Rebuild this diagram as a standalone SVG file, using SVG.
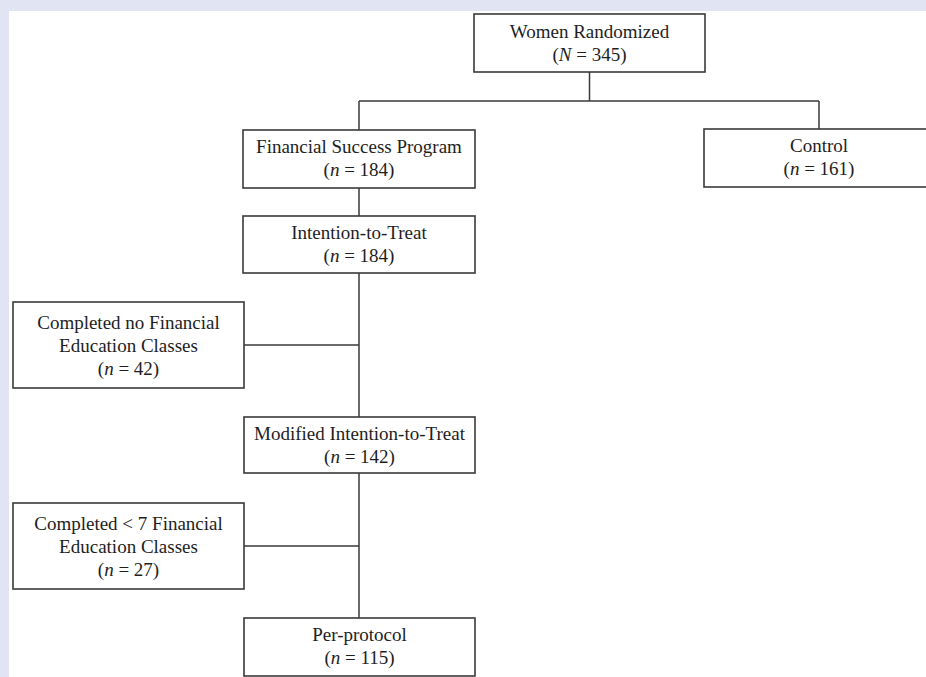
<svg xmlns="http://www.w3.org/2000/svg" width="926" height="677" viewBox="0 0 926 677">
<style>
.box{fill:#fff;stroke:#3a3a3a;stroke-width:1.6}
.t{font-family:"Liberation Serif","Times New Roman",serif;font-size:19px;fill:#1e1e1e;text-anchor:middle}
.i{font-style:italic}
.c{fill:none;stroke:#3a3a3a;stroke-width:1.5}
</style>
<rect x="0" y="0" width="926" height="677" fill="#fff"/>
<rect x="0" y="0" width="926" height="11" fill="#e0e4f3"/>
<rect x="0" y="0" width="9" height="677" fill="#e0e4f3"/>
<g id="connectors">
<path class="c" d="M589.5 72V101M359 101H819M359 101V130M819 101V129"/>
<path class="c" d="M359 188V216M359 273V417M244 345H359M359 473V618M244 546H359"/>
</g>
<g id="n-women"><rect class="box" x="474" y="14" width="231" height="58"/>
<text class="t" x="589.5" y="38">Women Randomized</text>
<text class="t" x="589.5" y="61">(<tspan class="i">N</tspan> = 345)</text></g>
<g id="n-fsp"><rect class="box" x="243" y="130" width="232" height="58"/>
<text class="t" x="359" y="153">Financial Success Program</text>
<text class="t" x="359" y="176">(<tspan class="i">n</tspan> = 184)</text></g>
<g id="n-control"><rect class="box" x="704" y="129" width="232" height="58"/>
<text class="t" x="819" y="152">Control</text>
<text class="t" x="819" y="175">(<tspan class="i">n</tspan> = 161)</text></g>
<g id="n-itt"><rect class="box" x="243" y="216" width="232" height="57"/>
<text class="t" x="359" y="239">Intention-to-Treat</text>
<text class="t" x="359" y="262">(<tspan class="i">n</tspan> = 184)</text></g>
<g id="n-none"><rect class="box" x="13" y="302" width="231" height="86"/>
<text class="t" x="128.5" y="329">Completed no Financial</text>
<text class="t" x="128.5" y="352">Education Classes</text>
<text class="t" x="128.5" y="375">(<tspan class="i">n</tspan> = 42)</text></g>
<g id="n-mitt"><rect class="box" x="244" y="417" width="231" height="56"/>
<text class="t" x="359.5" y="440">Modified Intention-to-Treat</text>
<text class="t" x="359.5" y="463">(<tspan class="i">n</tspan> = 142)</text></g>
<g id="n-lt7"><rect class="box" x="13" y="503" width="231" height="86"/>
<text class="t" x="128.5" y="530">Completed &lt; 7 Financial</text>
<text class="t" x="128.5" y="553">Education Classes</text>
<text class="t" x="128.5" y="576">(<tspan class="i">n</tspan> = 27)</text></g>
<g id="n-pp"><rect class="box" x="244" y="618" width="231" height="58"/>
<text class="t" x="359.5" y="641">Per-protocol</text>
<text class="t" x="359.5" y="664">(<tspan class="i">n</tspan> = 115)</text></g>
</svg>
